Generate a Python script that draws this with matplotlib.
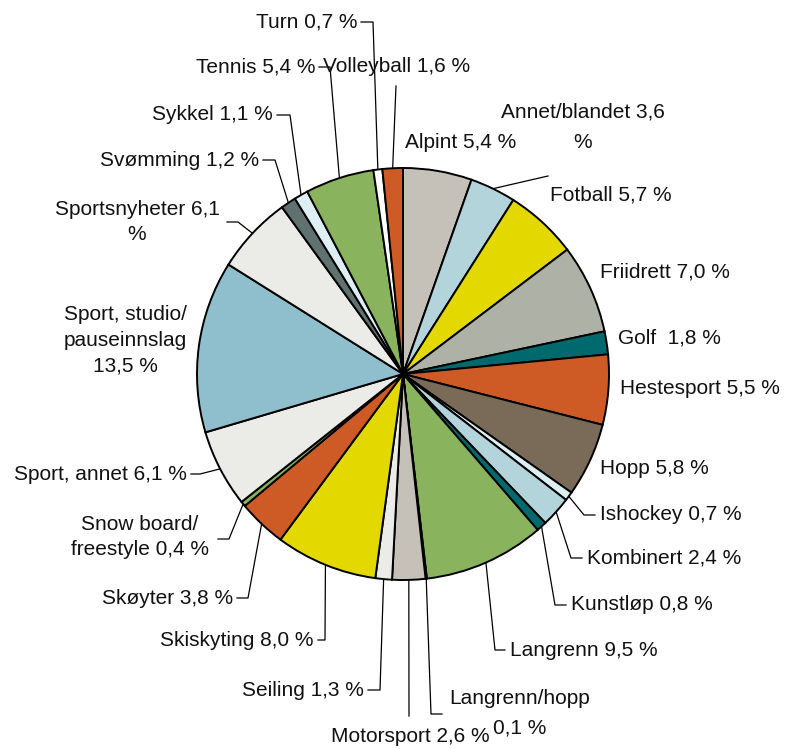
import matplotlib
matplotlib.use("Agg")
import matplotlib.pyplot as plt
import numpy as np

categories = ["Alpint", "Annet/blandet", "Fotball", "Friidrett", "Golf", "Hestesport",
              "Hopp", "Ishockey", "Kombinert", "Kunstløp", "Langrenn", "Langrenn/hopp",
              "Motorsport", "Seiling", "Skiskyting", "Skøyter", "Snow board/\nfreestyle",
              "Sport, annet", "Sport, studio/\npauseinnslag", "Sportsnyheter", "Svømming",
              "Sykkel", "Tennis", "Turn", "Volleyball"]
values = [5.4, 3.6, 5.7, 7.0, 1.8, 5.5, 5.8, 0.7, 2.4, 0.8, 9.5, 0.1, 2.6, 1.3, 8.0,
          3.8, 0.4, 6.1, 13.5, 6.1, 1.2, 1.1, 5.4, 0.7, 1.6]
label_texts = ["Alpint 5,4 %", "Annet/blandet 3,6\n%", "Fotball 5,7 %", "Friidrett 7,0 %",
               "Golf  1,8 %", "Hestesport 5,5 %", "Hopp 5,8 %", "Ishockey 0,7 %",
               "Kombinert 2,4 %", "Kunstløp 0,8 %", "Langrenn 9,5 %", "Langrenn/hopp\n0,1 %",
               "Motorsport 2,6 %", "Seiling 1,3 %", "Skiskyting 8,0 %", "Skøyter 3,8 %",
               "Snow board/\nfreestyle 0,4 %", "Sport, annet 6,1 %",
               "Sport, studio/\npauseinnslag\n13,5 %", "Sportsnyheter 6,1\n%",
               "Svømming 1,2 %", "Sykkel 1,1 %", "Tennis 5,4 %", "Turn 0,7 %",
               "Volleyball 1,6 %"]
colors = ["#C5C1B9", "#B2D4DA", "#E3D900", "#AEB2A6", "#00696E", "#CE5A26",
          "#7A6B58", "#DDEFF2", "#B2D4DA", "#00696E", "#8AB35E", "#C5C1B9",
          "#C5C1B9", "#EBECE7", "#E3D900", "#CE5A26", "#8AB35E", "#EBECE7",
          "#8FBFCC", "#EBECE7", "#5F726F", "#DDEFF2", "#8AB35E", "#FFFFFF", "#CE5A26"]

W, H = 786, 749
plt.rcParams['font.family'] = ['Liberation Sans', 'DejaVu Sans']
fig = plt.figure(figsize=(W / 100, H / 100), dpi=100)
ax = fig.add_axes([0, 0, 1, 1])

cx, cy, R = 403, H - 374, 206
wedges, _ = ax.pie(values, colors=colors, startangle=90, counterclock=False,
                   center=(cx, cy), radius=R, frame=True,
                   wedgeprops=dict(edgecolor='black', linewidth=1.4))
ax.set_xlim(0, W)
ax.set_ylim(0, H)
ax.set_aspect('equal')
ax.axis('off')

# label layout: (text x, text y (px from top), ha, elbow (x,y) px or None, line start (x,y) px or None)
layout = {
    "Alpint": (405, 143, 'left', None, None),
    "Annet/blandet": (583, 127, 'center', None, (548, 176)),
    "Fotball": (550, 195, 'left', None, None),
    "Friidrett": (600, 272, 'left', None, None),
    "Golf": (618, 338, 'left', None, None),
    "Hestesport": (620, 388, 'left', None, None),
    "Hopp": (600, 468, 'left', None, None),
    "Ishockey": (600, 515, 'left', (584, 515), (595, 515)),
    "Kombinert": (587, 558, 'left', (571, 558), (582, 558)),
    "Kunstløp": (571, 605, 'left', (555, 605), (566, 605)),
    "Langrenn": (510, 650, 'left', (495, 650), (505, 650)),
    "Langrenn/hopp": (520, 713, 'center', (431, 714), (442, 714)),
    "Motorsport": (410, 737, 'center', None, (409, 716)),
    "Seiling": (364, 690, 'right', (380, 690), (368, 690)),
    "Skiskyting": (314, 640, 'right', (325, 640), (318, 640)),
    "Skøyter": (233, 598, 'right', (248, 598), (237, 598)),
    "Snow board/\nfreestyle": (140, 537, 'center', (229, 539), (218, 539)),
    "Sport, annet": (187, 474, 'right', (200, 474), (191, 474)),
    "Sport, studio/\npauseinnslag": (125, 340, 'center', None, None),
    "Sportsnyheter": (137, 222, 'center', (238, 222), (227, 222)),
    "Svømming": (259, 160, 'right', (275, 160), (263, 160)),
    "Sykkel": (273, 115, 'right', (290, 115), (277, 115)),
    "Tennis": (315, 67, 'right', (330, 67), (319, 67)),
    "Turn": (357, 22, 'right', (373, 22), (361, 22)),
    "Volleyball": (397, 67, 'center', None, (396, 86)),
}
split_lines = {"Annet/blandet", "Langrenn/hopp"}

FS = 15
LS = 30  # line step in px for split labels
for w, cat, txt in zip(wedges, categories, label_texts):
    tx, ty, ha, elbow, start = layout[cat]
    lines = txt.split("\n")
    if cat in split_lines:
        # draw line by line so each text box stays tight
        n = len(lines)
        for i, ln in enumerate(lines):
            yy = ty + (i - (n - 1) / 2) * LS
            ax.text(tx, H - yy, ln, ha=ha, va='center', fontsize=FS, color='#111111')
    else:
        ax.text(tx, H - ty, txt, ha=ha, va='center', fontsize=FS, color='#111111',
                linespacing=1.45, multialignment='center')
    if start is not None:
        mid = np.deg2rad((w.theta1 + w.theta2) / 2)
        ex, ey = cx + R * np.cos(mid), cy + R * np.sin(mid)
        xs = [start[0]]
        ys = [H - start[1]]
        if elbow is not None:
            xs.append(elbow[0])
            ys.append(H - elbow[1])
        xs.append(ex)
        ys.append(ey)
        ax.plot(xs, ys, color='black', linewidth=0.9, zorder=0.5)

fig.savefig("out.png", dpi=100, facecolor='white')
